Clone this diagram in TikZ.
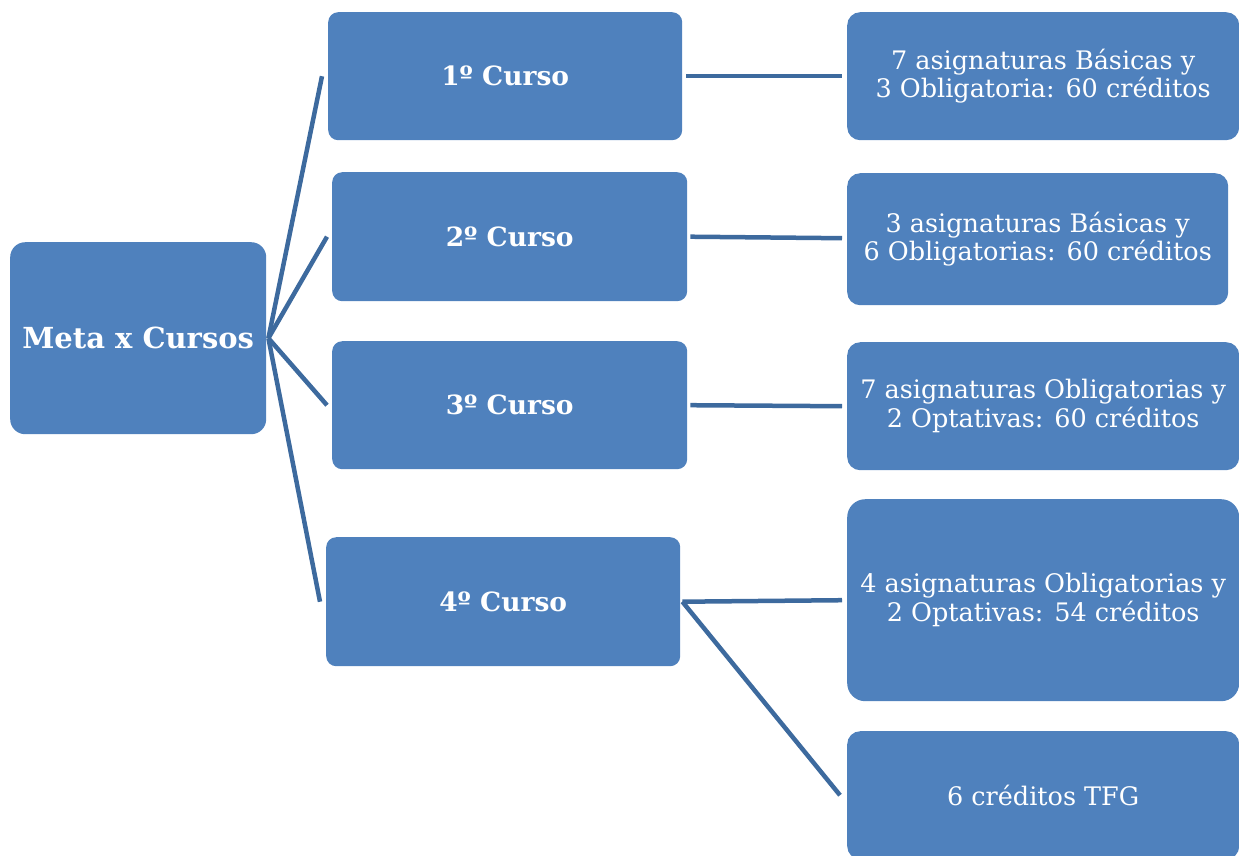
\documentclass[tikz,border=0pt]{standalone}
\usepackage{fontspec}
\setmainfont{DejaVu Serif}
\begin{document}
\begin{tikzpicture}[x=1pt,y=-1pt,
  box/.style={draw=none,fill=boxblue,text=white,rounded corners=#1,inner sep=0pt,anchor=north west,align=center},
  box/.default=10pt,
  bigbold/.style={font=\fontsize{29}{32}\selectfont\bfseries},
  bold/.style={font=\fontsize{26.5}{30}\selectfont\bfseries},
  reg/.style={font=\fontsize{25.5}{28.5}\selectfont},
  link/.style={draw=lineblue,line width=4.5pt}]
\definecolor{boxblue}{HTML}{4F81BD}
\definecolor{lineblue}{HTML}{3D6A9E}
\useasboundingbox (0,0) rectangle (1239,855);
\clip (0,0) rectangle (1239,855);
% left
\node[box=15pt,bigbold,minimum width=256pt,minimum height=192pt] (meta) at (10,242) {Meta x Cursos};
% middle
\node[box=10pt,bold,minimum width=354pt,minimum height=128pt] (c1) at (328,12) {1º Curso};
\node[box=10pt,bold,minimum width=355pt,minimum height=129pt] (c2) at (332,172) {2º Curso};
\node[box=10pt,bold,minimum width=355pt,minimum height=128pt] (c3) at (332,341) {3º Curso};
\node[box=10pt,bold,minimum width=354pt,minimum height=129pt] (c4) at (326,537) {4º Curso};
% right
\node[box=13pt,reg,minimum width=392pt,minimum height=128pt] (r1) at (847,12) {7 asignaturas Básicas y\\3 Obligatoria: 60 créditos};
\node[box=13pt,reg,minimum width=381pt,minimum height=132pt] (r2) at (847,173) {3 asignaturas Básicas y\\6 Obligatorias: 60 créditos};
\node[box=13pt,reg,minimum width=392pt,minimum height=128pt] (r3) at (847,342) {7 asignaturas Obligatorias y\\2 Optativas: 60 créditos};
\node[box=18pt,reg,minimum width=392pt,minimum height=202pt] (r4) at (847,499) {4 asignaturas Obligatorias y\\2 Optativas: 54 créditos};
\node[box=13pt,reg,minimum width=392pt,minimum height=128pt] (r5) at (847,731) {6 créditos TFG};
% connectors
\coordinate (m) at ([xshift=2pt]meta.east);
\draw[link] (m) -- ([xshift=-6pt,yshift=0pt]c1.west);
\draw[link] (m) -- ([xshift=-5pt]c2.west);
\draw[link] (m) -- ([xshift=-5pt]c3.west);
\draw[link] (m) -- ([xshift=-6pt]c4.west);
\draw[link] ([xshift=4pt]c1.east) -- ([xshift=-5pt]r1.west);
\draw[link] ([xshift=3pt]c2.east) -- ([xshift=-5pt,yshift=1pt]r2.west);
\draw[link] ([xshift=3pt]c3.east) -- ([xshift=-5pt]r3.west);
\coordinate (f) at ([xshift=2pt]c4.east);
\draw[link] (f) -- ([xshift=-5pt]r4.west);
\draw[link] (f) -- ([xshift=-7pt]r5.west);
\end{tikzpicture}
\end{document}
